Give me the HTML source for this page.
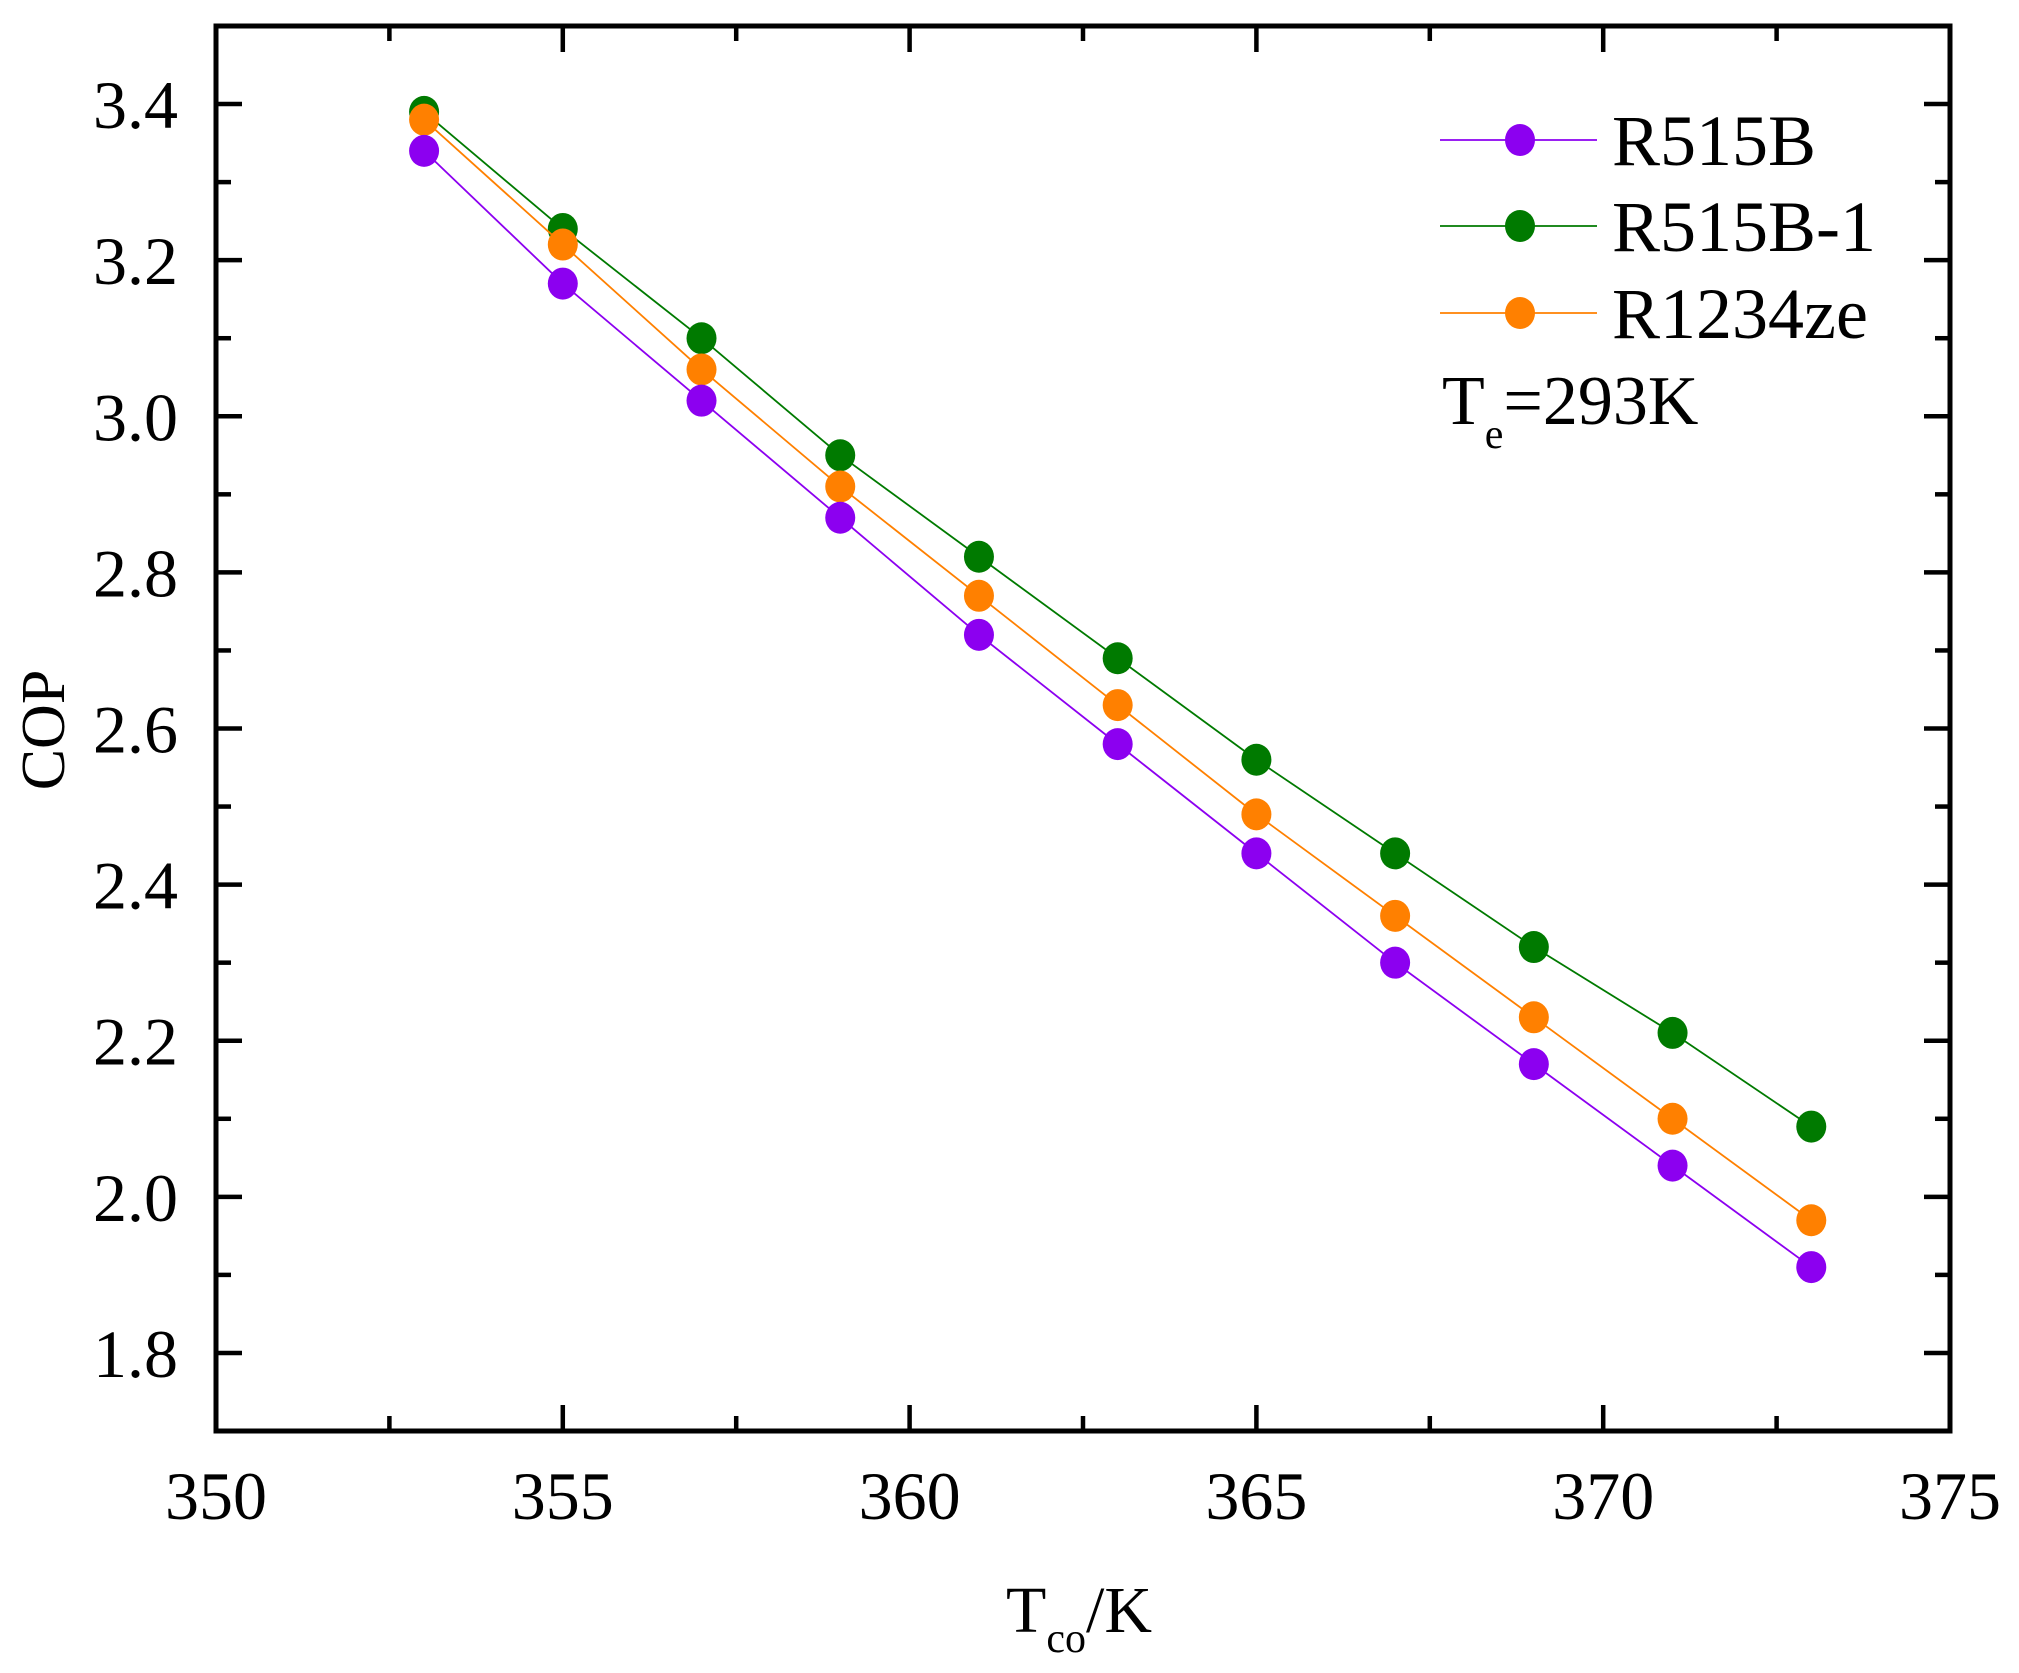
<!DOCTYPE html>
<html><head><meta charset="utf-8"><style>body{margin:0;background:#fff}svg{display:block}text{font-family:"Liberation Serif",serif;fill:#000}</style></head>
<body>
<svg width="2019" height="1673" viewBox="0 0 2019 1673" xmlns="http://www.w3.org/2000/svg">
<g id="plot"></g>
</svg>
<script>
const X0=216,X1=1950,Y0=26,Y1=1431;
const sx=v=>X0+(v-350)*(X1-X0)/25, sy=v=>Y1-(v-1.7)*(Y1-Y0)/1.8;
let s='';
for(let v=350;v<=375;v+=2.5){const x=sx(v),L=(v%5===0)?26:15;
 s+=`<line x1="${x}" y1="${Y1}" x2="${x}" y2="${Y1-L}" stroke="#000" stroke-width="4.5"/>`;
 s+=`<line x1="${x}" y1="${Y0}" x2="${x}" y2="${Y0+L}" stroke="#000" stroke-width="4.5"/>`;
 if(v%5===0) s+=`<text x="${x}" y="${Y1+88}" font-size="68" text-anchor="middle">${v}</text>`;}
for(let k=17;k<=35;k++){const v=k/10,y=sy(v),maj=(k%2===0),L=maj?26:15;
 s+=`<line x1="${X0}" y1="${y}" x2="${X0+L}" y2="${y}" stroke="#000" stroke-width="4.5"/>`;
 s+=`<line x1="${X1}" y1="${y}" x2="${X1-L}" y2="${y}" stroke="#000" stroke-width="4.5"/>`;
 if(maj&&k<=34) s+=`<text x="178" y="${y+24}" font-size="68" text-anchor="end">${v.toFixed(1)}</text>`;}
s+=`<rect x="${X0}" y="${Y0}" width="${X1-X0}" height="${Y1-Y0}" fill="none" stroke="#000" stroke-width="5"/>`;
const xs=[353,355,357,359,361,363,365,367,369,371,373];
const series=[
 ['#007a00',[3.39,3.24,3.10,2.95,2.82,2.69,2.56,2.44,2.32,2.21,2.09]],
 ['#ff8000',[3.38,3.22,3.06,2.91,2.77,2.63,2.49,2.36,2.23,2.10,1.97]],
 ['#8c00f0',[3.34,3.17,3.02,2.87,2.72,2.58,2.44,2.30,2.17,2.04,1.91]]];
for(const [c,d] of series){
 s+=`<polyline fill="none" stroke="${c}" stroke-width="1.8" points="${d.map((v,i)=>sx(xs[i])+','+sy(v)).join(' ')}"/>`;
 d.forEach((v,i)=>s+=`<ellipse cx="${sx(xs[i])}" cy="${sy(v)}" rx="15" ry="16" fill="${c}"/>`);}
const leg=[['#8c00f0','R515B',140],['#007a00','R515B-1',226],['#ff8000','R1234ze',313]];
for(const [c,t,y] of leg){
 s+=`<line x1="1440" y1="${y}" x2="1597" y2="${y}" stroke="${c}" stroke-width="1.8"/>`;
 s+=`<ellipse cx="1520" cy="${y}" rx="15" ry="16" fill="${c}"/>`;
 s+=`<text x="1612" y="${y+25}" font-size="72">${t}</text>`;}
s+=`<text x="1442" y="424" font-size="70">T<tspan font-size="42" dy="24">e</tspan><tspan dy="-24">=293K</tspan></text>`;
s+=`<text transform="translate(64,730) rotate(-90)" font-size="62" text-anchor="middle">COP</text>`;
s+=`<text x="1006" y="1632" font-size="66">T<tspan font-size="42" dy="20">co</tspan><tspan dy="-20">/K</tspan></text>`;
document.getElementById('plot').innerHTML=s;
</script>
</body></html>
